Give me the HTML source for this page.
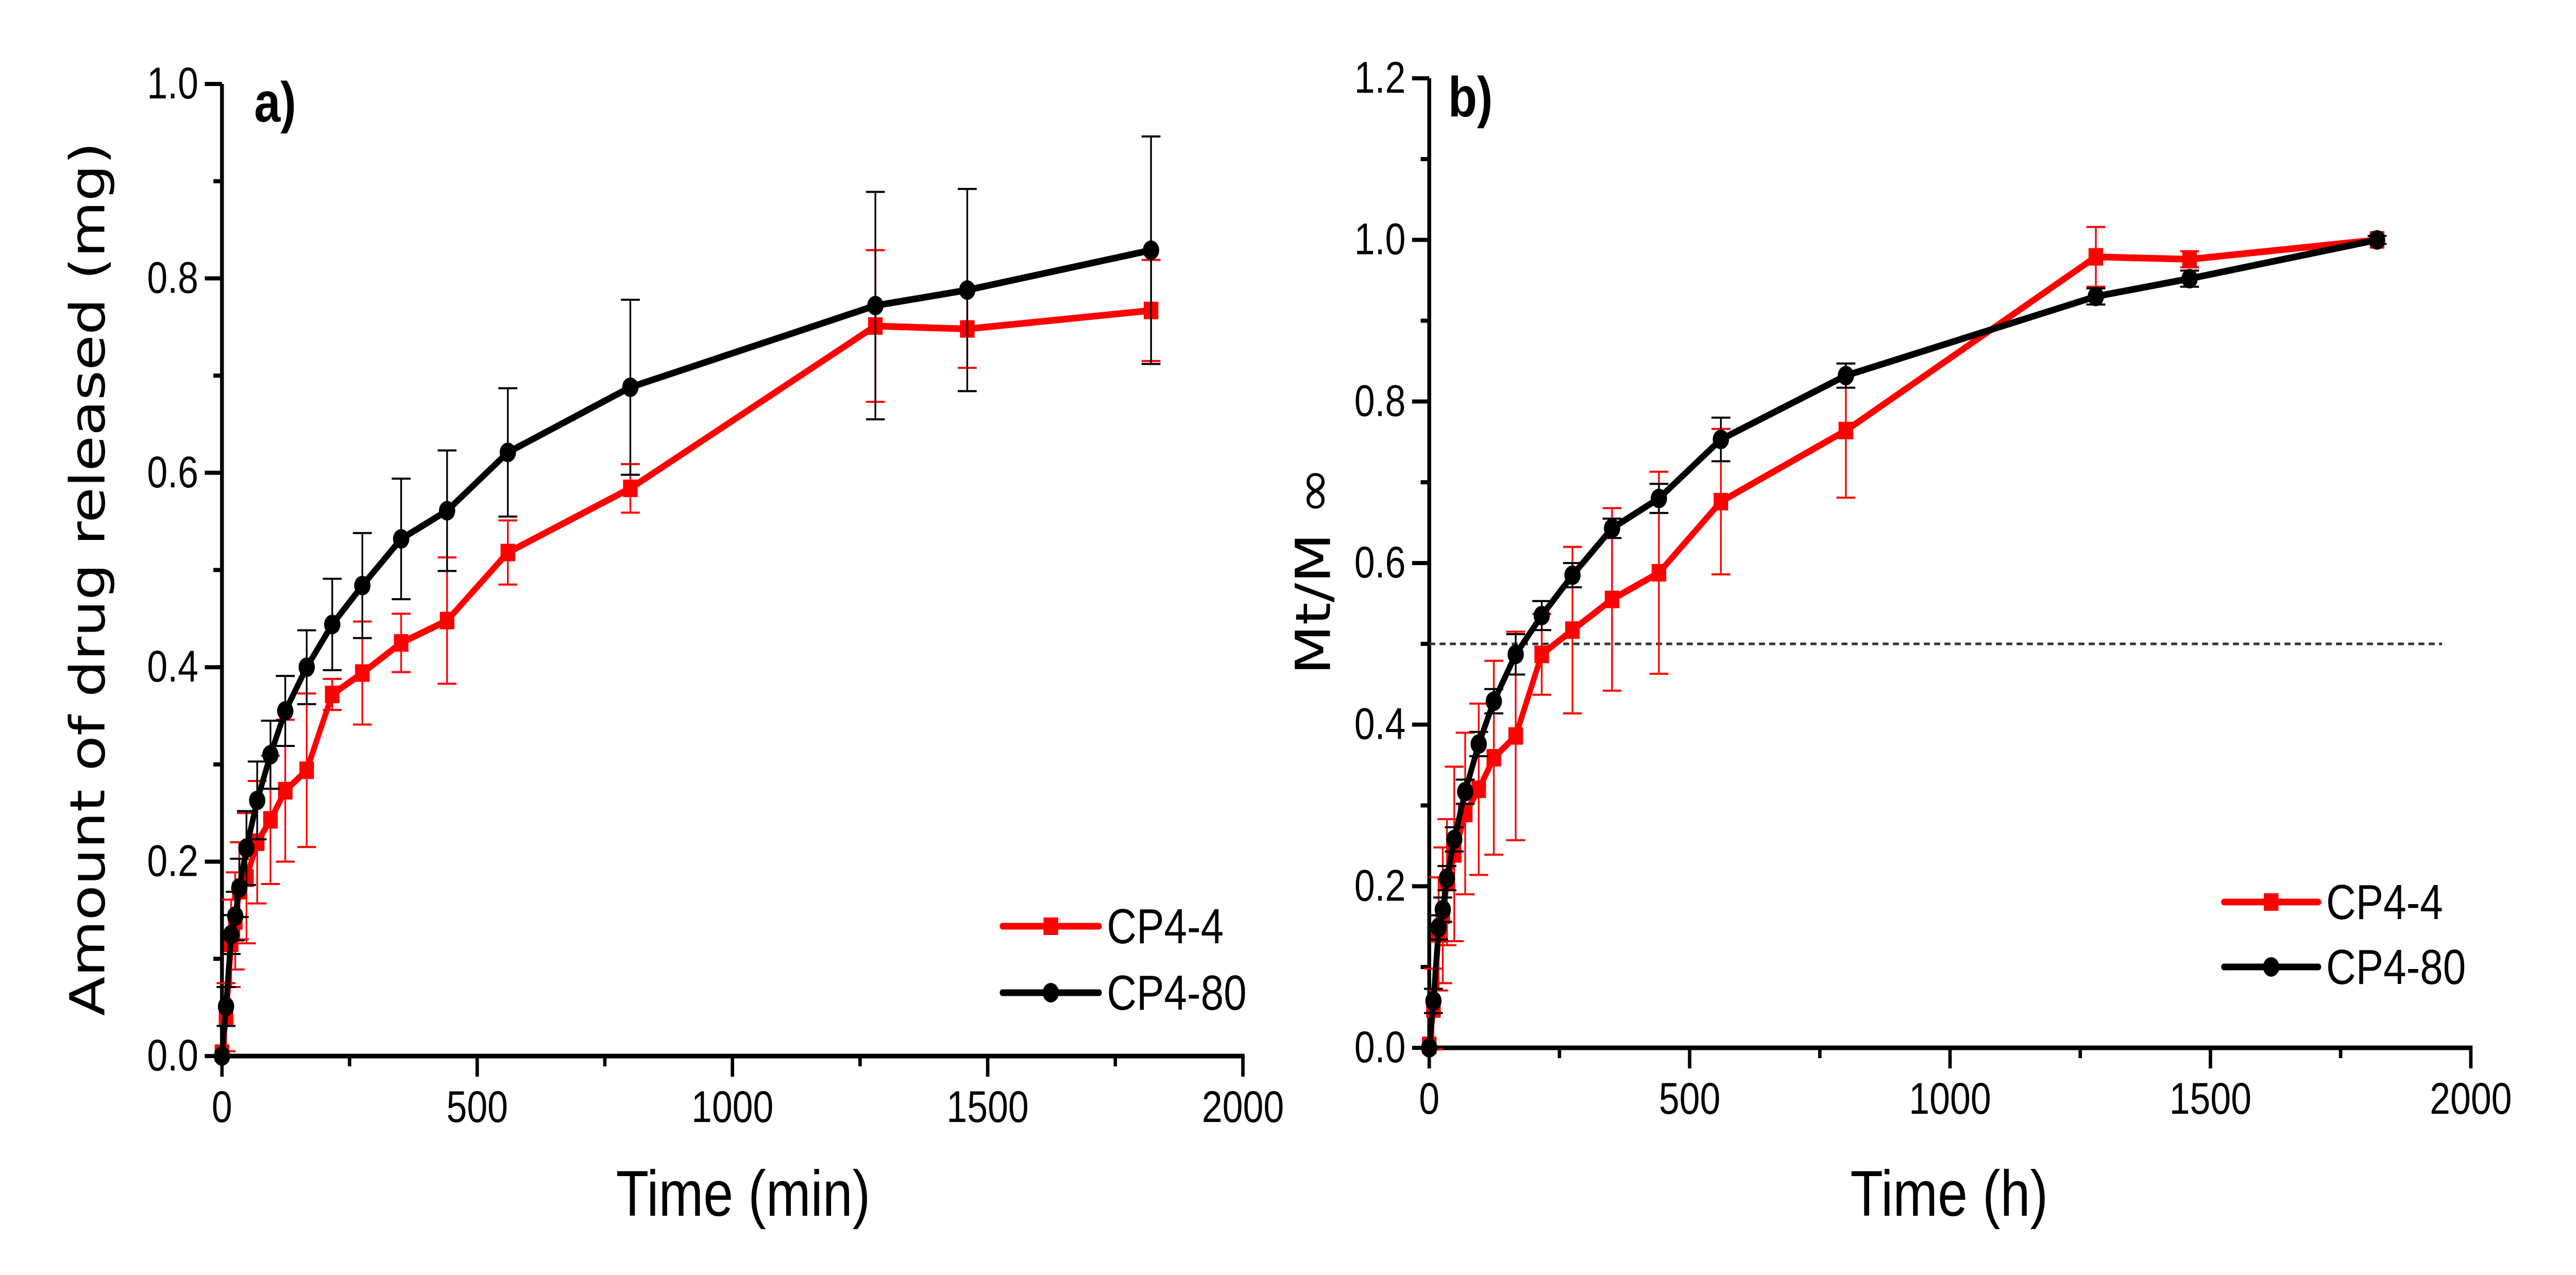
<!DOCTYPE html>
<html><head><meta charset="utf-8"><style>
html,body{margin:0;padding:0;background:#fff;overflow:hidden;width:100%;height:100%}
svg{display:block;width:100vw;height:100vh}
text{font-family:"Liberation Sans Narrow","Liberation Sans",sans-serif;fill:#000}
</style></head><body>
<svg id="fig" viewBox="0 0 6000 2475" preserveAspectRatio="none" xmlns="http://www.w3.org/2000/svg">
<g id="pa"></g>
<g id="pb"></g>
</svg>
<script>
const times = [0,8,18,26,34,48,69,95,124,166,216,275,351,441,560,800,1280,1460,1820];
const aRed = [0.003,0.04,0.116,0.139,0.17,0.183,0.22,0.243,0.273,0.294,0.372,0.394,0.425,0.448,0.518,0.584,0.751,0.748,0.767];
const aRedErr = [0,0.035,0.045,0.05,0.05,0.067,0.063,0.066,0.073,0.079,0.016,0.053,0.03,0.065,0.033,0.025,0.078,0.04,0.052];
const aBlack = [0,0.051,0.125,0.144,0.173,0.214,0.263,0.31,0.355,0.40,0.444,0.484,0.532,0.561,0.621,0.688,0.772,0.788,0.829];
const aBlackErr = [0,0.02,0.02,0.025,0.03,0.038,0.04,0.035,0.036,0.038,0.047,0.054,0.062,0.062,0.066,0.09,0.117,0.104,0.117];
const bRed = [0.003,0.048,0.141,0.164,0.205,0.24,0.29,0.32,0.359,0.386,0.487,0.517,0.555,0.588,0.676,0.764,0.979,0.976,1.0];
const bRedErr = [0,0.05,0.07,0.084,0.078,0.108,0.1,0.106,0.12,0.129,0.05,0.103,0.113,0.125,0.09,0.083,0.037,0.01,0];
const bBlack = [0,0.058,0.149,0.171,0.21,0.258,0.317,0.376,0.429,0.487,0.535,0.585,0.643,0.68,0.753,0.832,0.93,0.952,1.0];
const bBlackErr = [0,0.015,0.015,0.015,0.015,0.015,0.015,0.015,0.015,0.025,0.018,0.015,0.012,0.018,0.027,0.015,0.01,0.01,0.005];
const aYTicks = [0,0.2,0.4,0.6,0.8,1.0];
const bYTicks = [0,0.2,0.4,0.6,0.8,1.0,1.2];
const xTicks = [0,500,1000,1500,2000];
const halfLine = 0.5;

const NS="http://www.w3.org/2000/svg";
function mk(parent,tag,attrs,txt){const e=document.createElementNS(NS,tag);for(const k in attrs)e.setAttribute(k,attrs[k]);if(txt!==undefined)e.textContent=txt;parent.appendChild(e);return e;}

function panel(g,cfg){
  const X=t=>cfg.x0+t*(cfg.x1-cfg.x0)/2000;
  const Y=v=>cfg.y0-v*(cfg.y0-cfg.yTop)/cfg.yMax;
  let ax=mk(g,'line',{x1:X(0),y1:Y(0),x2:X(0),y2:Y(cfg.yMax),stroke:'#000','stroke-width':9});
  
  
  let bx=mk(g,'line',{x1:X(0)-4,y1:Y(0),x2:X(2000)+4,y2:Y(0),stroke:'#000','stroke-width':9});
  
  
  cfg.yTicks.forEach(v=>{
    const tk=mk(g,'line',{x1:X(0)-40,y1:Y(v),x2:X(0),y2:Y(v),stroke:'#000','stroke-width':8});
    
    
    const lb=mk(g,'text',{x:X(0)-55,y:Y(v)+28,'font-size':86,'text-anchor':'end'},v.toFixed(1));
    
    
    if(v<cfg.yMax){const m=mk(g,'line',{x1:X(0)-20,y1:Y(v+0.1),x2:X(0),y2:Y(v+0.1),stroke:'#000','stroke-width':8});
    
    }
  });
  xTicks.forEach(t=>{
    const tk=mk(g,'line',{x1:X(t),y1:Y(0),x2:X(t),y2:Y(0)+40,stroke:'#000','stroke-width':8});
    
    
    const lb=mk(g,'text',{x:X(t),y:Y(0)+128,'font-size':86,'text-anchor':'middle'},String(t));
    
    
    if(t<2000){const m=mk(g,'line',{x1:X(t+250),y1:Y(0),x2:X(t+250),y2:Y(0)+20,stroke:'#000','stroke-width':8});
    
    }
  });
  if(cfg.dashed){const d=mk(g,'line',{x1:X(0),y1:Y(halfLine),x2:X(1945),y2:Y(halfLine),stroke:'#333','stroke-width':5,'stroke-dasharray':'14 10'});
    
    }
  const series=[{v:cfg.red,e:cfg.redErr,c:'#ff0000',m:'sq',n:'cp4-4'},{v:cfg.black,e:cfg.blackErr,c:'#000',m:'ci',n:'cp4-80'}];
  series.forEach(s=>{
    const sg=mk(g,'g',{});
    
    
    times.forEach((t,i)=>{
      if(s.e[i]<=0)return;
      const x=X(t),yt=Y(s.v[i]+s.e[i]),yb=Y(s.v[i]-s.e[i]);
      const eb=mk(sg,'path',{d:`M${x},${yt}V${yb}M${x-22},${yt}H${x+22}M${x-22},${yb}H${x+22}`,stroke:s.c,'stroke-width':4,fill:'none'});
      
      
    });
    const pts=times.map((t,i)=>X(t)+','+Y(s.v[i])).join(' ');
    const pl=mk(sg,'polyline',{points:pts,fill:'none',stroke:s.c,'stroke-width':13,'stroke-linejoin':'round'});
    
    
    times.forEach((t,i)=>{
      const x=X(t),y=Y(s.v[i]);let p;
      if(s.m==='sq')p=mk(sg,'rect',{x:x-17,y:y-17,width:34,height:34,fill:s.c});
      else p=mk(sg,'circle',{cx:x,cy:y,r:19,fill:s.c});
      
      
    });
  });
  cfg.leg.forEach((L,k)=>{
    const s=series[k];
    const lg=mk(g,'g',{});
    
    
    mk(lg,'line',{x1:L.x1,y1:L.y,x2:L.x2,y2:L.y,stroke:s.c,'stroke-width':13,'stroke-linecap':'round'});
    const cx=(L.x1+L.x2)/2;
    if(s.m==='sq')mk(lg,'rect',{x:cx-17,y:L.y-17,width:34,height:34,fill:s.c});
    else mk(lg,'circle',{cx:cx,cy:L.y,r:19,fill:s.c});
    mk(lg,'text',{x:L.x2+18,y:L.y+33,'font-size':96},s.n.toUpperCase());
  });
}

const pa=document.getElementById('pa'),pb=document.getElementById('pb');
panel(pa,{x0:517,x1:2895,y0:2050,yTop:163,yMax:1.0,yTicks:aYTicks,red:aRed,redErr:aRedErr,black:aBlack,blackErr:aBlackErr,dashed:false,
  leg:[{x1:2335,x2:2560,y:1798},{x1:2335,x2:2560,y:1927}]});
panel(pb,{x0:3329,x1:5755,y0:2034,yTop:152,yMax:1.2,yTicks:bYTicks,red:bRed,redErr:bRedErr,black:bBlack,blackErr:bBlackErr,dashed:true,
  leg:[{x1:5180,x2:5400,y:1751},{x1:5180,x2:5400,y:1877}]});

function txt(parent,attrs,s,name){const t=mk(parent,'text',attrs,s);return t;}
txt(pa,{x:1731,y:2360,'font-size':125,'text-anchor':'middle'},'Time (min)','x-axis-title');
txt(pb,{x:4540,y:2360,'font-size':125,'text-anchor':'middle'},'Time (h)','x-axis-title');
txt(pa,{x:0,y:0,'font-size':112,'text-anchor':'middle',style:'font-family:"DejaVu Sans","Liberation Sans",sans-serif',transform:'translate(243,1124) rotate(-90)'},'Amount of drug released (mg)','y-axis-title');
txt(pb,{x:0,y:0,'font-size':112,'text-anchor':'middle',style:'font-family:"DejaVu Sans","Liberation Sans",sans-serif',transform:'translate(3098,1108) rotate(-90)'},'Mt/M  \u221E','y-axis-title');
txt(pa,{x:592,y:236,'font-size':110,'font-weight':'bold'},'a)','panel-label');
txt(pb,{x:3373,y:226,'font-size':110,'font-weight':'bold'},'b)','panel-label');
</script>
</body></html>
